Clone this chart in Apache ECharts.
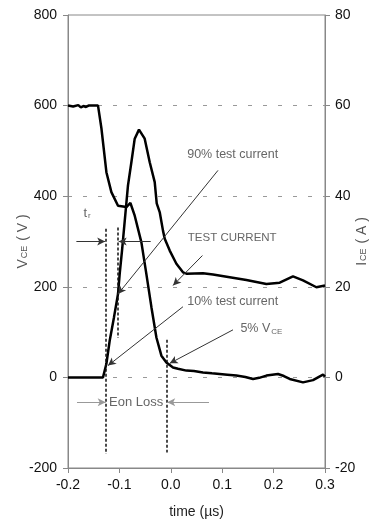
<!DOCTYPE html>
<html>
<head>
<meta charset="utf-8">
<script src="https://cdn.jsdelivr.net/npm/echarts@6/dist/echarts.min.js"></script>
<style>
html,body{margin:0;padding:0;background:#fff;}
#main{width:372px;height:524px;}
</style>
</head>
<body>
<div id="main"></div>
<script>
// time axis in µs, VCE in V (left axis), ICE in A (right axis)
var xTicks = [-0.2, -0.1, 0.0, 0.1, 0.2, 0.3];
var vceTicks = [-200, 0, 200, 400, 600, 800];
var iceTicks = [-20, 0, 20, 40, 60, 80];

var vceTime = [-0.2, -0.19, -0.18, -0.175, -0.17, -0.165, -0.16, -0.15, -0.1416, -0.135, -0.1253, -0.1156, -0.1027,
  -0.0864, -0.0786, -0.0702, -0.0572, -0.0475, -0.0377, -0.028, -0.0183, -0.0086, -0.0054, 0.0043, 0.014, 0.0304,
  0.045, 0.0626, 0.08, 0.0951, 0.11, 0.1276, 0.145, 0.16, 0.172, 0.186, 0.2086, 0.22, 0.2313, 0.2572, 0.2767, 0.2961, 0.3];
var vceVolt = [600, 598, 601, 596, 599, 597, 600, 600, 600, 550, 453, 409, 379,
  376, 385, 357, 298, 228, 155, 88, 48, 33, 30, 22, 19, 15,
  14, 11, 9, 7.5, 6, 4, 1, -3.5, -1, 4, 7.5, 3, -3.5, -11, -6, 6, 1.5];

var iceTime = [-0.2, -0.1319, -0.1253, -0.1189, -0.1105, -0.1027, -0.0994, -0.0949, -0.0833, -0.0767, -0.0702,
  -0.0619, -0.0508, -0.041, -0.0313, -0.0274, -0.0216, -0.0152, -0.0118, -0.0021, 0.0109, 0.0237, 0.0304,
  0.0626, 0.0821, 0.1146, 0.1471, 0.186, 0.2119, 0.2377, 0.2572, 0.2833, 0.3];
var iceAmp = [0, 0, 3.0, 8.1, 13.3, 18.4, 22.9, 28.0, 42.4, 47.5, 52.7,
  54.7, 52.7, 47.5, 43.1, 38.4, 36.5, 32.4, 30.6, 28.0, 25.1, 23.2, 22.9,
  23.0, 22.7, 22.1, 21.5, 20.6, 20.9, 22.3, 21.4, 19.9, 20.3];

function pairs(a, b) {
  var out = [];
  for (var i = 0; i < a.length; i++) out.push([a[i], b[i]]);
  return out;
}

// annotation segments in data coords (time, VCE scale)
function seg(x1, y1, x2, y2, color, type, arrow) {
  return [
    {coord: [x1, y1], symbol: 'none', lineStyle: {color: color, type: type, width: type === 'solid' ? 1 : 1.5}},
    {coord: [x2, y2], symbol: arrow ? 'arrow' : 'none', symbolSize: [6, 8]}
  ];
}
var notesLines = [
  seg(-0.1257, 328, -0.1257, -169, '#111', [3, 2], false),
  seg(-0.1033, 331, -0.1033, 87, '#111', [3, 2], false),
  seg(-0.0086, 83, -0.0086, -166, '#111', [3, 2], false),
  seg(-0.1837, 300, -0.1276, 300, '#333', 'solid', true),
  seg(-0.0391, 300, -0.1014, 300, '#333', 'solid', true),
  seg(-0.1825, -55, -0.1267, -55, '#999', 'solid', true),
  seg(0.0743, -55, -0.0070, -55, '#999', 'solid', true),
  seg(0.0918, 457, -0.1027, 184, '#333', 'solid', true),
  seg(0.0615, 269, 0.0043, 203, '#333', 'solid', true),
  seg(0.0237, 156, -0.1222, 26, '#333', 'solid', true),
  seg(0.121, 105, -0.0021, 31, '#333', 'solid', true)
];

var chartDom = document.getElementById('main');
var myChart = echarts.init(chartDom);
var axisFont = {color: '#111', fontSize: 14, fontFamily: 'Liberation Sans, Arial, sans-serif'};
var nameRich = {
  a: {fontSize: 14, color: '#555', fontFamily: 'Liberation Sans, Arial'},
  s: {fontSize: 9, color: '#555', fontFamily: 'Liberation Sans, Arial', padding: [4, 1, 0, 1]}
};

var option = {
  animation: false,
  grid: {
    left: 68, right: 47, top: 15, bottom: 56,
    outerBoundsMode: 'none', containLabel: false,
    show: true, borderColor: '#888', borderWidth: 1
  },
  xAxis: {
    type: 'value',
    min: xTicks[0], max: xTicks[xTicks.length - 1], interval: 0.1,
    axisLine: {onZero: false, lineStyle: {color: '#888'}},
    axisTick: {length: 5, lineStyle: {color: '#888'}},
    splitLine: {show: false},
    axisLabel: Object.assign({margin: 10, formatter: function (v) { return v.toFixed(1); }}, axisFont),
    name: 'time (µs)', nameLocation: 'middle', nameGap: 37, nameMoveOverlap: false,
    nameTextStyle: {color: '#222', fontSize: 14, fontFamily: 'Liberation Sans, Arial'}
  },
  yAxis: [
    {
      type: 'value', position: 'left',
      min: vceTicks[0], max: vceTicks[vceTicks.length - 1], interval: 200,
      axisLine: {show: true, onZero: false, lineStyle: {color: '#888'}},
      axisTick: {show: true, length: 5, lineStyle: {color: '#888'}},
      splitLine: {show: true, showMinLine: false, showMaxLine: false,
        lineStyle: {color: '#999', type: [4, 11], width: 1}},
      axisLabel: Object.assign({margin: 11}, axisFont),
      name: '{a|V}{s|CE}{a| ( V )}', nameLocation: 'middle', nameGap: 38, nameRotate: 90,
      nameMoveOverlap: false,
      nameTextStyle: {rich: nameRich}
    },
    {
      type: 'value', position: 'right',
      min: iceTicks[0], max: iceTicks[iceTicks.length - 1], interval: 20,
      axisLine: {show: true, onZero: false, lineStyle: {color: '#888'}},
      axisTick: {show: true, length: 5, lineStyle: {color: '#888'}},
      splitLine: {show: false},
      axisLabel: Object.assign({margin: 10}, axisFont),
      name: '{a|I}{s|CE}{a| ( A )}', nameLocation: 'middle', nameGap: 30, nameRotate: 90,
      nameMoveOverlap: false,
      nameTextStyle: {rich: nameRich}
    }
  ],
  series: [
    {
      name: 'VCE',
      type: 'line',
      yAxisIndex: 0,
      data: pairs(vceTime, vceVolt),
      showSymbol: false,
      lineStyle: {color: '#000', width: 2.5},
      z: 3,
      markLine: {
        silent: true,
        symbol: ['none', 'none'],
        label: {show: false},
        emphasis: {disabled: true},
        data: notesLines
      }
    },
    {
      name: 'ICE',
      type: 'line',
      yAxisIndex: 1,
      data: pairs(iceTime, iceAmp),
      showSymbol: false,
      lineStyle: {color: '#000', width: 2.5},
      z: 3
    }
  ]
};
option && myChart.setOption(option);

// text notes, placed through the axes
var notes = [
  {t: 0.1204, v: 492, text: '90% test current', size: 12.5, align: 'center'},
  {t: 0.1195, v: 309, text: 'TEST CURRENT', size: 11.5, align: 'center'},
  {t: 0.1204, v: 167, text: '10% test current', size: 12.5, align: 'center'},
  {t: 0.1354, v: 107, text: '{a|5% V}{s|CE}', size: 12.5, align: 'left'},
  {t: -0.1700, v: 362, text: '{a|t}{s|r}', size: 13, align: 'left'},
  {t: -0.0673, v: -55, text: 'Eon Loss', size: 13, align: 'center'}
];
var graphics = notes.map(function (n) {
  var p = myChart.convertToPixel({xAxisIndex: 0, yAxisIndex: 0}, [n.t, n.v]);
  return {
    type: 'text', x: p[0], y: p[1], silent: true,
    style: {
      text: n.text, align: n.align, verticalAlign: 'middle',
      fill: '#666', fontSize: n.size, fontFamily: 'Liberation Sans, Arial',
      rich: {
        a: {fontSize: n.size, fill: '#666', fontFamily: 'Liberation Sans, Arial'},
        s: {fontSize: 8, fill: '#666', fontFamily: 'Liberation Sans, Arial', padding: [5, 0, 0, 1]}
      }
    }
  };
});
myChart.setOption({graphic: graphics});
</script>
</body>
</html>
